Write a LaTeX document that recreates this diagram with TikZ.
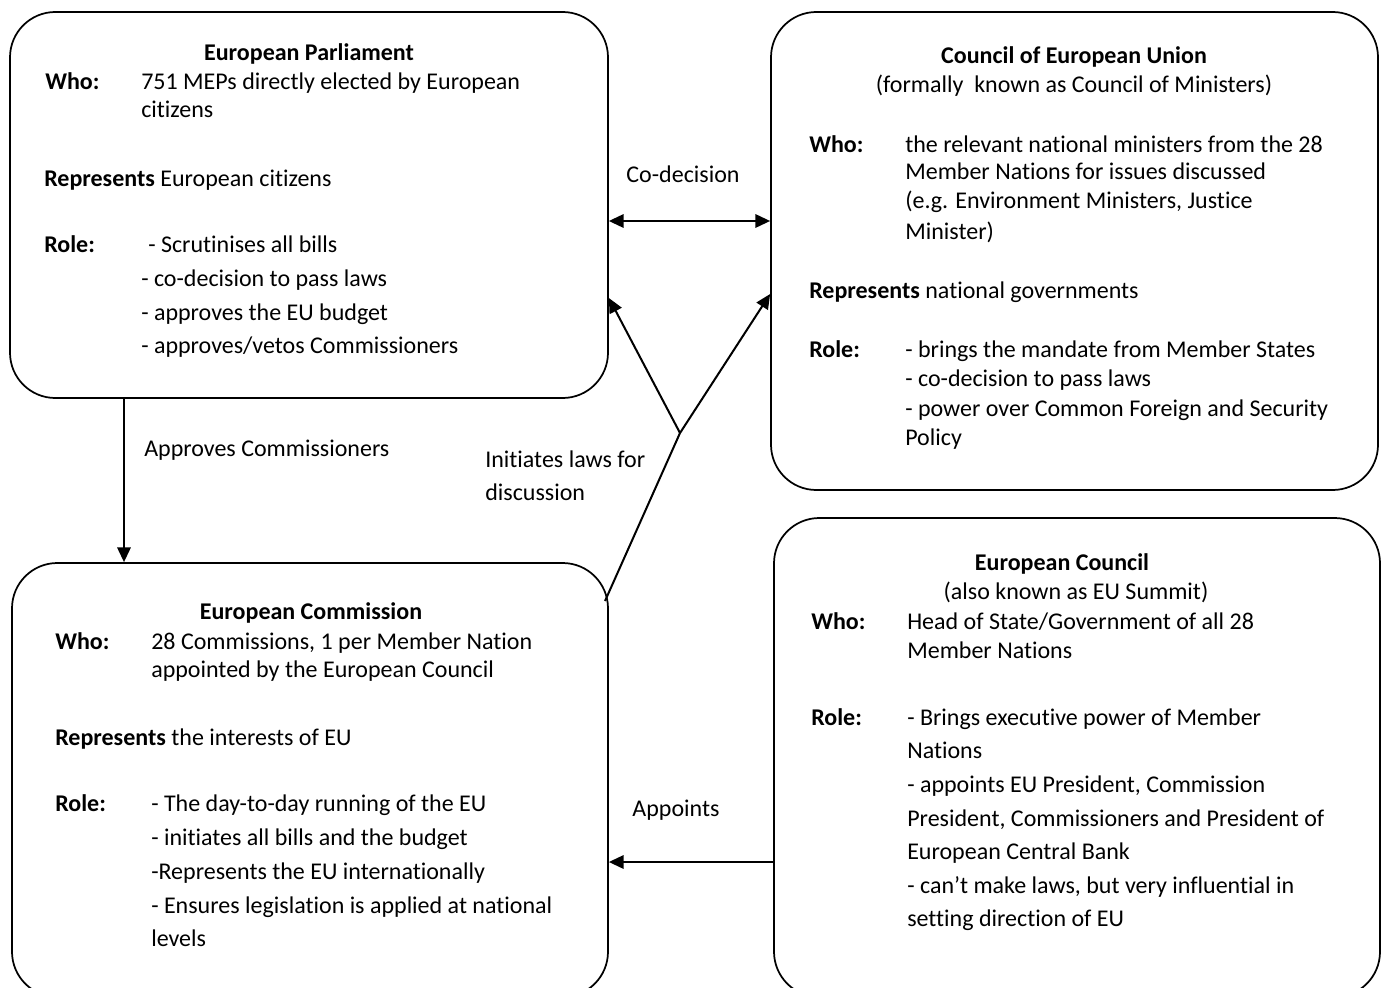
\documentclass[tikz,border=0pt]{standalone}
\usepackage{fontspec}
\setmainfont{Carlito}[Ligatures=NoCommon]
\usetikzlibrary{arrows.meta}
\newcommand{\myfs}{\fontsize{18}{22}\selectfont}
\newcommand{\tln}[4]{\node[txt] (#1) at (#2,#3) {#4};}
\newcommand{\tlc}[4]{\node[txt,anchor=base] (#1) at (#2,#3) {#4};}
\begin{document}
\begin{tikzpicture}[x=0.75pt,y=-0.75pt,
  box/.style={draw,line width=1.3pt,rounded corners=34pt,rectangle,inner sep=0pt},
  conn/.style={line width=1.5pt},
  arr/.style={conn,-{Triangle[length=11pt,width=10pt]}},
  darr/.style={conn,{Triangle[length=11pt,width=10pt]}-{Triangle[length=11pt,width=10pt]}},
  txt/.style={inner sep=0pt,anchor=base west,font=\myfs},
  ]
\useasboundingbox (0,0) rectangle (1384,988);
\clip (0,0) rectangle (1384,988);
\fill[white] (0,0) rectangle (1384,988);

% boxes
\node[box,minimum width=448.5pt,minimum height=289.5pt] (ep) at (309,205) {};
\node[box,minimum width=455.25pt,minimum height=358.5pt] (cu) at (1074.5,251) {};
\node[box,minimum width=447pt,minimum height=325.5pt] (ecom) at (310,780) {};
\node[box,minimum width=454.5pt,minimum height=359.25pt] (ecou) at (1077,757.5) {};

% European Parliament
\tlc{ep0}{309}{61}{\textbf{European Parliament}}
\tln{ep1}{45}{90}{\textbf{Who:}}
\tln{ep2}{141}{90}{751 MEPs directly elected by European}
\tln{ep3}{141}{118}{citizens}
\tln{ep4}{44}{186}{\textbf{Represents} European citizens}
\tln{ep5}{44}{252}{\textbf{Role:}}
\tln{ep6}{148}{252}{- Scrutinises all bills}
\tln{ep7}{141}{286}{- co-decision to pass laws}
\tln{ep8}{141}{320}{- approves the EU budget}
\tln{ep9}{141}{353}{- approves/vetos Commissioners}

% Council of European Union
\tlc{cu0}{1074}{64}{\textbf{Council of European Union}}
\tlc{cu1}{1074}{93}{(formally\ \ known as Council of Ministers)}
\tln{cu2}{809}{152}{\textbf{Who:}}
\tln{cu3}{905}{152}{the relevant national ministers from the 28}
\tln{cu4}{905}{180}{Member Nations for issues discussed}
\tln{cu5}{905}{209}{(e.g. Environment Ministers, Justice}
\tln{cu6}{905}{239}{Minister)}
\tln{cu7}{809}{298}{\textbf{Represents} national governments}
\tln{cu8}{809}{357}{\textbf{Role:}}
\tln{cu9}{905}{357}{- brings the mandate from Member States}
\tln{cu10}{905}{386}{- co-decision to pass laws}
\tln{cu11}{905}{416}{- power over Common Foreign and Security}
\tln{cu12}{905}{445}{Policy}

% European Commission
\tlc{ec0}{311}{619}{\textbf{European Commission}}
\tln{ec1}{55}{649}{\textbf{Who:}}
\tln{ec2}{151}{649}{28 Commissions, 1 per Member Nation}
\tln{ec3}{151}{677}{appointed by the European Council}
\tln{ec4}{55}{745}{\textbf{Represents} the interests of EU}
\tln{ec5}{55}{811}{\textbf{Role:}}
\tln{ec6}{151}{811}{- The day-to-day running of the EU}
\tln{ec7}{151}{845}{- initiates all bills and the budget}
\tln{ec8}{151}{879}{-Represents the EU internationally}
\tln{ec9}{151}{913}{- Ensures legislation is applied at national}
\tln{ec10}{151}{946}{levels}

% European Council
\tlc{eo0}{1062}{570}{\textbf{European Council}}
\tlc{eo1}{1076}{599}{(also known as EU Summit)}
\tln{eo2}{811}{629}{\textbf{Who:}}
\tln{eo3}{907}{629}{Head of State/Government of all 28}
\tln{eo4}{907}{658}{Member Nations}
\tln{eo5}{811}{725}{\textbf{Role:}}
\tln{eo6}{907}{725}{- Brings executive power of Member}
\tln{eo7}{907}{758}{Nations}
\tln{eo8}{907}{792}{- appoints EU President, Commission}
\tln{eo9}{907}{826}{President, Commissioners and President of}
\tln{eo10}{907}{859}{European Central Bank}
\tln{eo11}{907}{893}{- can’t make laws, but very influential in}
\tln{eo12}{907}{926}{setting direction of EU}

% connector labels
\tlc{lcd}{683}{182}{Co-decision}
\tln{lap}{144}{456}{Approves Commissioners}
\tln{lin1}{485}{467}{Initiates laws for}
\tln{lin2}{485}{500}{discussion}
\tlc{lpt}{676}{816}{Appoints}

% helper coordinates
\coordinate (ycd) at (0,221);
\coordinate (xap) at (124,0);
\coordinate (yt1) at (0,298);
\coordinate (yt2) at (0,294);
\coordinate (ypt) at (0,862);
\coordinate (j) at (680,433);
\coordinate (s) at (605,601);

% connectors
\draw[darr] (ep.east |- ycd) -- (cu.west |- ycd);
\draw[arr] (ep.south -| xap) -- (ecom.north -| xap);
\draw[conn] (s) -- (j);
\draw[arr] (j) -- (ep.east |- yt1);
\draw[arr] (j) -- (cu.west |- yt2);
\draw[arr] (ecou.west |- ypt) -- (ecom.east |- ypt);
\end{tikzpicture}
\end{document}
